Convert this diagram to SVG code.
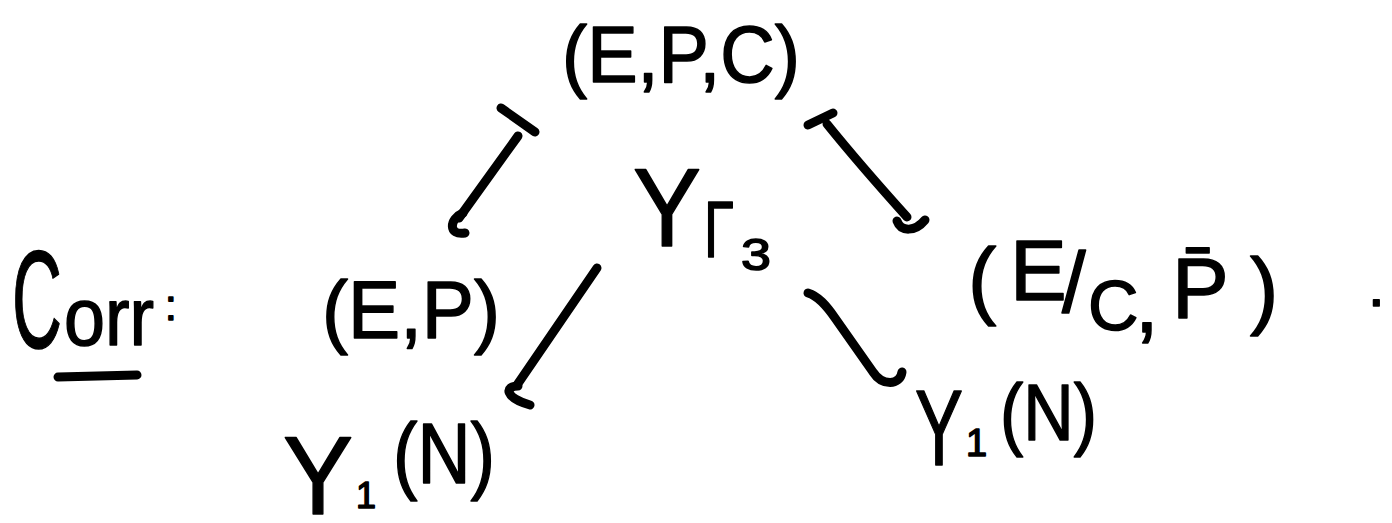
<svg xmlns="http://www.w3.org/2000/svg" width="1392" height="523" viewBox="0 0 1392 523">
<style>
text{font-family:"Liberation Sans","DejaVu Sans",sans-serif;fill:#000;stroke:#000;stroke-width:1.5;stroke-linejoin:round}
.c{fill:none;stroke:#000;stroke-width:9;stroke-linecap:round;stroke-linejoin:round}
</style>
<rect width="1392" height="523" fill="#fff"/>
<g id="node-epc">
<text x="562" y="82" font-size="80" textLength="238" lengthAdjust="spacingAndGlyphs">(E,P,C)</text>
</g>
<g id="node-ygamma">
<text x="633" y="246" font-size="112" textLength="68" lengthAdjust="spacingAndGlyphs">Y</text>
<text x="704" y="257" font-size="80" textLength="30" lengthAdjust="spacingAndGlyphs">Γ</text>
<text x="741" y="270" font-size="45" textLength="30" lengthAdjust="spacingAndGlyphs">3</text>
</g>
<g id="label-corr">
<text x="12" y="348" font-size="140" textLength="50" lengthAdjust="spacingAndGlyphs">C</text>
<text x="64" y="345" font-size="82" textLength="90" lengthAdjust="spacingAndGlyphs">orr</text>
<text x="165" y="320" font-size="42">:</text>
<path class="c" d="M58,377 L137,375"/>
</g>
<g id="node-ep">
<text x="322" y="338" font-size="82" textLength="178" lengthAdjust="spacingAndGlyphs">(E,P)</text>
</g>
<g id="node-ecp">
<text font-size="85"><tspan x="968" y="308">(</tspan><tspan x="1010" y="300">E</tspan><tspan x="1062" y="312">/</tspan><tspan x="1088" y="330" font-size="70">C</tspan><tspan x="1135" y="332">,</tspan><tspan x="1172" y="318">P̄</tspan><tspan x="1250" y="318">)</tspan></text>
</g>
<g id="label-dot">
<text x="1368" y="306" font-size="60">.</text>
</g>
<g id="node-y1n-left">
<text x="283" y="514" font-size="112" textLength="70" lengthAdjust="spacingAndGlyphs">Y</text>
<text x="356" y="508" font-size="36">1</text>
<text x="393" y="483" font-size="86" textLength="102" lengthAdjust="spacingAndGlyphs">(N)</text>
</g>
<g id="node-y1n-right">
<text x="915" y="465" font-size="108" textLength="48" lengthAdjust="spacingAndGlyphs">Y</text>
<text x="966" y="456" font-size="38">1</text>
<text x="1000" y="440" font-size="80" textLength="97" lengthAdjust="spacingAndGlyphs">(N)</text>
</g>
<g id="connectors">
<path class="c" d="M501,108 L535,132"/>
<path class="c" d="M518,136 L459,218"/>
<path class="c" d="M463,213 C449,219 448,236 465,233"/>
<path class="c" d="M808,125 L833,113"/>
<path class="c" d="M827,124 C852,155 880,187 907,217"/>
<path class="c" d="M897,221 C901,232 915,232 925,220"/>
<path class="c" d="M597,268 L517,385"/>
<path class="c" d="M518,386 C504,386 505,398 530,405"/>
<path class="c" d="M808,293 C818,296 826,305 835,318 L873,372 C882,386 900,386 902,372"/>
</g>
</svg>
